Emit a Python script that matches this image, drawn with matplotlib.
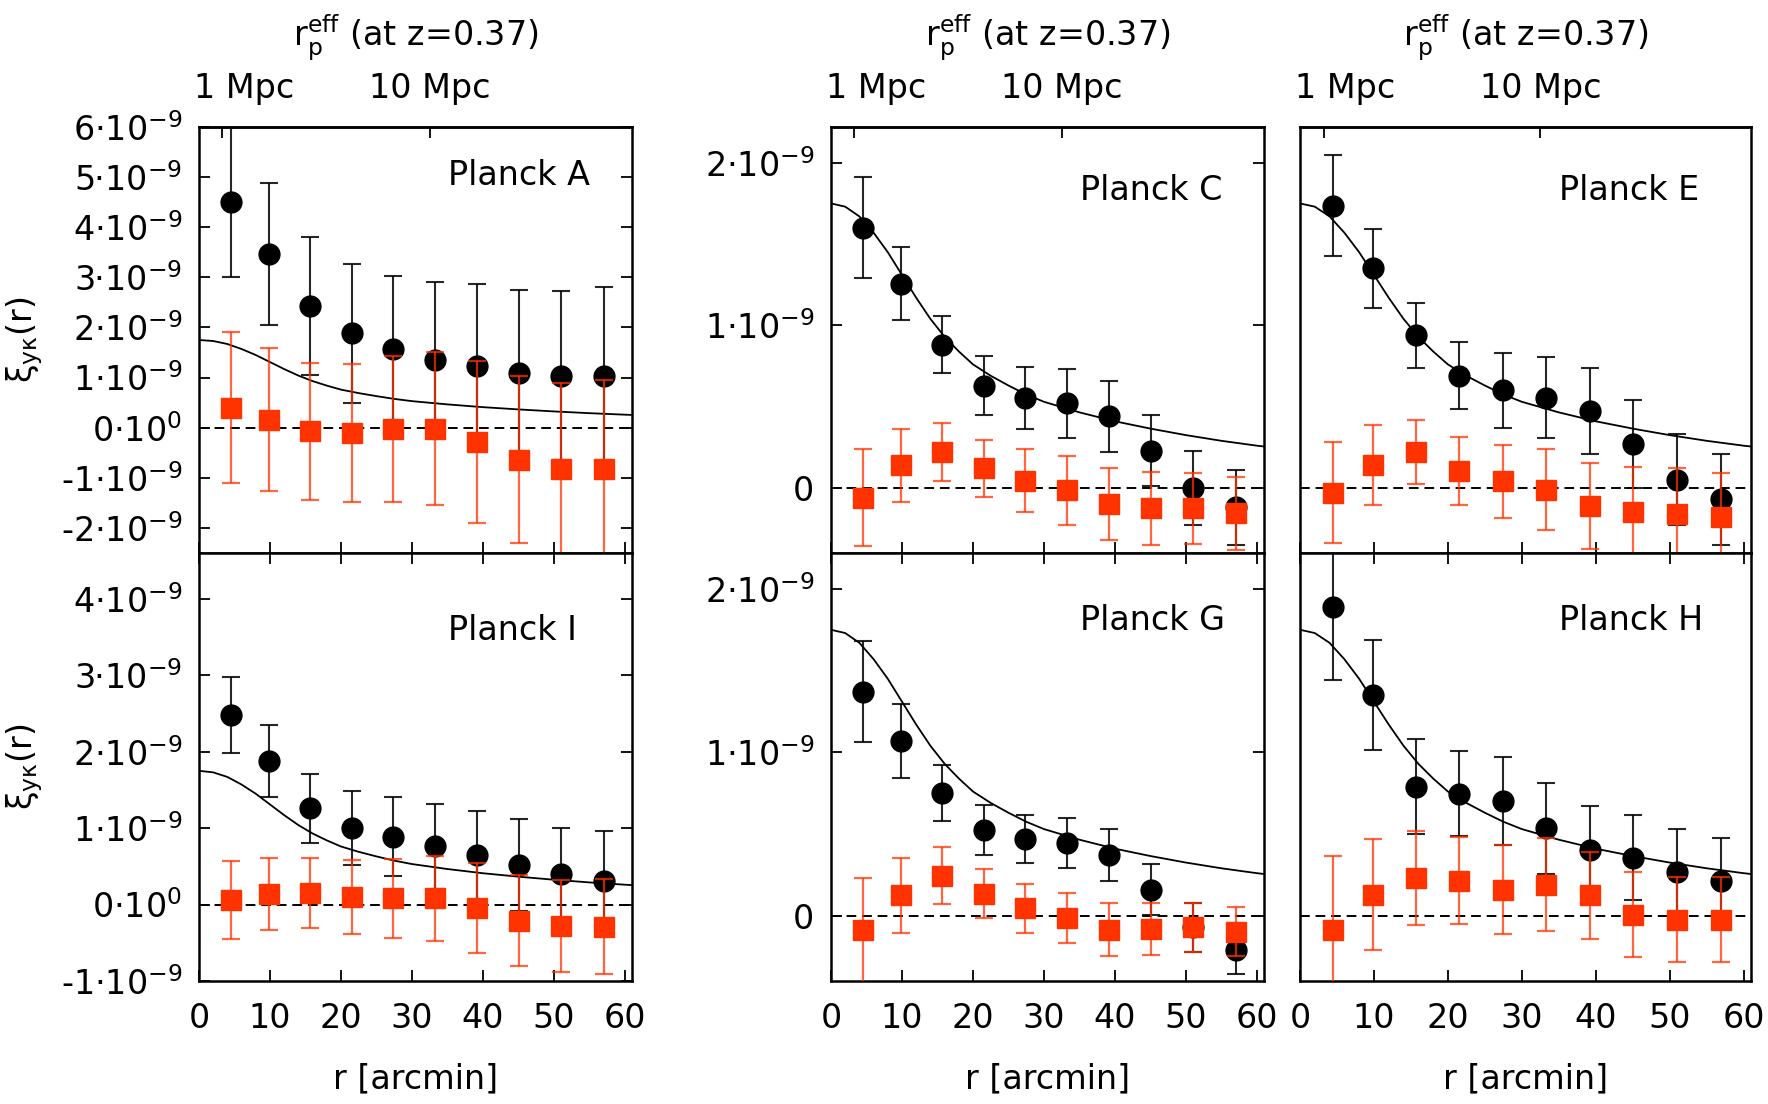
# ξ_yκ cross-correlation panels, Planck maps A/C/E (top) and I/G/H (bottom)
import matplotlib
matplotlib.use('Agg')
import matplotlib.pyplot as plt
import matplotlib.transforms as mtransforms
import numpy as np

plt.rcParams['font.family'] = 'DejaVu Sans'
plt.rcParams['mathtext.fontset'] = 'dejavusans'

# radial bins [arcmin]
r_bins = [4.5, 9.9, 15.7, 21.5, 27.4, 33.3, 39.2, 45.1, 51.0, 57.0]

# model prediction (same curve in every panel), units of 1e-9
r_model = [0, 2, 4, 6, 8, 10, 12, 14, 16, 18, 20, 22.5, 25, 27.5, 30, 35, 40, 45, 50, 55, 60, 61]
xi_model = [1.75, 1.73, 1.67, 1.57, 1.45, 1.31, 1.17, 1.04, 0.93, 0.84, 0.76, 0.69, 0.63,
            0.575, 0.53, 0.465, 0.41, 0.365, 0.325, 0.29, 0.26, 0.255]

# measurements (black circles) and null test (red squares), units of 1e-9
A_sig = [4.50, 3.46, 2.43, 1.88, 1.57, 1.36, 1.24, 1.10, 1.04, 1.03]
A_sig_err = [1.50, 1.42, 1.37, 1.38, 1.45, 1.55, 1.62, 1.65, 1.69, 1.77]
A_null = [0.40, 0.16, -0.07, -0.11, -0.02, -0.02, -0.28, -0.64, -0.82, -0.82]
A_null_err = [1.51, 1.43, 1.37, 1.38, 1.46, 1.53, 1.62, 1.67, 1.72, 1.77]

C_sig = [1.60, 1.255, 0.88, 0.63, 0.555, 0.52, 0.44, 0.23, 0.0, -0.12]
C_sig_err = [0.31, 0.225, 0.175, 0.18, 0.19, 0.21, 0.22, 0.22, 0.225, 0.23]
C_null = [-0.06, 0.14, 0.22, 0.12, 0.045, -0.015, -0.10, -0.125, -0.125, -0.155]
C_null_err = [0.30, 0.225, 0.18, 0.175, 0.195, 0.21, 0.22, 0.225, 0.22, 0.225]

E_sig = [1.735, 1.35, 0.94, 0.69, 0.60, 0.555, 0.475, 0.27, 0.05, -0.07]
E_sig_err = [0.31, 0.245, 0.20, 0.205, 0.23, 0.25, 0.265, 0.27, 0.28, 0.28]
E_null = [-0.03, 0.14, 0.22, 0.105, 0.04, -0.01, -0.11, -0.15, -0.16, -0.18]
E_null_err = [0.31, 0.245, 0.195, 0.21, 0.225, 0.25, 0.265, 0.28, 0.285, 0.27]

I_sig = [2.48, 1.88, 1.26, 1.00, 0.89, 0.76, 0.645, 0.515, 0.40, 0.31]
I_sig_err = [0.50, 0.47, 0.45, 0.48, 0.52, 0.55, 0.58, 0.60, 0.60, 0.65]
I_null = [0.055, 0.14, 0.15, 0.10, 0.08, 0.08, -0.045, -0.21, -0.28, -0.29]
I_null_err = [0.51, 0.47, 0.46, 0.48, 0.52, 0.56, 0.59, 0.60, 0.60, 0.62]

G_sig = [1.37, 1.07, 0.75, 0.525, 0.47, 0.445, 0.37, 0.16, -0.07, -0.21]
G_sig_err = [0.31, 0.225, 0.17, 0.155, 0.145, 0.155, 0.16, 0.155, 0.15, 0.145]
G_null = [-0.09, 0.125, 0.245, 0.135, 0.045, -0.015, -0.085, -0.08, -0.07, -0.10]
G_null_err = [0.32, 0.23, 0.175, 0.15, 0.15, 0.155, 0.16, 0.16, 0.15, 0.15]

H_sig = [1.89, 1.35, 0.79, 0.745, 0.70, 0.535, 0.40, 0.355, 0.27, 0.215]
H_sig_err = [0.45, 0.335, 0.29, 0.26, 0.27, 0.28, 0.27, 0.26, 0.26, 0.26]
H_null = [-0.087, 0.127, 0.23, 0.215, 0.16, 0.19, 0.125, 0.005, -0.025, -0.025]
H_null_err = [0.45, 0.34, 0.29, 0.265, 0.275, 0.285, 0.265, 0.26, 0.26, 0.26]

# y ticks
A_yticks = [-2, -1, 0, 1, 2, 3, 4, 5, 6]
I_yticks = [-1, 0, 1, 2, 3, 4]
CG_yticks = [0, 1, 2]

x_ticks = [0, 10, 20, 30, 40, 50, 60]
mpc_ticks = [3.25, 32.5]
mpc_labels = ['1 Mpc', '10 Mpc']

top_title = r'r$_\mathregular{p}^\mathregular{eff}$ (at z=0.37)'
ylab = r'ξ$_\mathregular{yκ}$(r)'


def exp_label(v):
    if v == 0:
        return r'0·10$^{0}$'
    return f'{v}·10' + r'$^{-9}$'


def cg_label(v):
    if v == 0:
        return '0'
    return f'{v}·10' + r'$^{-9}$'


FS = 24
red = '#ff3300'

fig = plt.figure(figsize=(17.68, 11.04), dpi=100)
W, H = 1768.0, 1104.0

cols = [(199, 433), (831, 433), (1300, 451)]
rows = [(127, 553), (553, 981)]

panels = [
    # row, col, name, sig, sig_err, null, null_err, ylim, yticks, labeler, label y
    (0, 0, 'Planck A', A_sig, A_sig_err, A_null, A_null_err, (-2.5, 6.0), A_yticks, exp_label, 0.886),
    (0, 1, 'Planck C', C_sig, C_sig_err, C_null, C_null_err, (-0.4, 2.22), CG_yticks, cg_label, 0.850),
    (0, 2, 'Planck E', E_sig, E_sig_err, E_null, E_null_err, (-0.4, 2.22), [], None, 0.850),
    (1, 0, 'Planck I', I_sig, I_sig_err, I_null, I_null_err, (-1.0, 4.6), I_yticks, exp_label, 0.818),
    (1, 1, 'Planck G', G_sig, G_sig_err, G_null, G_null_err, (-0.4, 2.22), CG_yticks, cg_label, 0.843),
    (1, 2, 'Planck H', H_sig, H_sig_err, H_null, H_null_err, (-0.4, 2.22), [], None, 0.843),
]

for row, col, name, sig, sig_err, null, null_err, ylim, yticks, labeler, label_y in panels:
    x0, w = cols[col]
    ytop, ybot = rows[row]
    ax = fig.add_axes([x0 / W, 1 - ybot / H, w / W, (ybot - ytop) / H])

    ax.axhline(0, color='black', linestyle=(0, (5, 3)), linewidth=1.4, zorder=1)
    ax.plot(r_model, xi_model, color='black', linewidth=1.3, zorder=2)

    ax.errorbar(r_bins, sig, yerr=sig_err, fmt='o', color='black', ms=15,
                ecolor=(0, 0, 0, 0.85), elinewidth=1.5, capsize=6.5, capthick=1.5, zorder=3)
    ax.errorbar(r_bins, null, yerr=null_err, fmt='s', mfc=red, mec=red, ms=14.5,
                ecolor=(1, 0.2, 0, 0.75), elinewidth=1.6, capsize=6.5, capthick=1.6, zorder=4)

    ax.set_xlim(0, 61)
    ax.set_ylim(*ylim)
    ax.set_xticks(x_ticks)

    for s in ax.spines.values():
        s.set_linewidth(1.8)

    if yticks:
        ax.set_yticks(yticks)
        ax.set_yticklabels([labeler(v) for v in yticks])
        ax.tick_params(axis='y', direction='in', length=8, width=1.3, left=True, right=True,
                       labelsize=FS, pad=12)
    else:
        ax.tick_params(axis='y', left=False, right=False, labelleft=False)

    if row == 0:
        ax.tick_params(axis='x', direction='in', length=8, width=1.3, bottom=True, top=False,
                       labelbottom=False)
        sec = ax.secondary_xaxis('top')
        sec.set_xticks(mpc_ticks)
        sec.set_xticklabels(['', ''])
        sec.tick_params(direction='in', length=8, width=1.3)
        sec.spines['top'].set_linewidth(1.8)
        trans = mtransforms.blended_transform_factory(ax.transData, ax.transAxes)
        ax.text(-0.65, 1.09, mpc_labels[0], transform=trans, ha='left', va='center', fontsize=FS)
        ax.text(mpc_ticks[1], 1.09, mpc_labels[1], transform=trans, ha='center', va='center',
                fontsize=FS)
    else:
        ax.tick_params(axis='x', direction='in', length=8, width=1.3, bottom=True, top=True,
                       labelbottom=True, labelsize=FS, pad=15)
        ax.set_xlabel('r [arcmin]', fontsize=FS)
        ax.xaxis.set_label_coords(0.5, -0.19)

    if col == 0:
        ax.set_ylabel(ylab, fontsize=FS)
        ax.yaxis.set_label_coords(-0.355, 0.5)

    ax.text(0.574, label_y, name, transform=ax.transAxes, ha='left', va='center', fontsize=FS)

for x0, w in cols:
    fig.text((x0 + w / 2) / W, 1 - 38 / H, top_title, ha='center', va='center', fontsize=FS)

fig.savefig('out.png', dpi=100)
